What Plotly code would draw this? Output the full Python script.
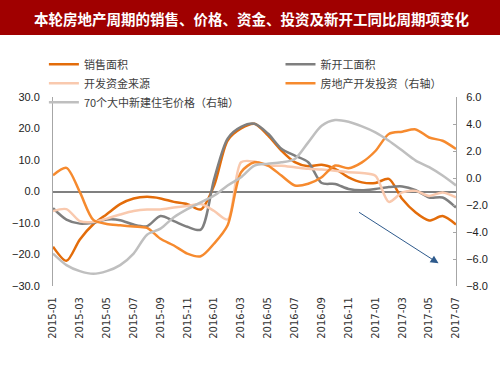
import plotly.graph_objects as go

months = [f"{y}-{m:02d}" for y, m in [(2015, i) for i in range(1, 13)] + [(2016, i) for i in range(1, 13)] + [(2017, i) for i in range(1, 8)]]

sales_area = [-17.5, -22.0, -15.2, -10.4, -7.2, -4.0, -2.2, -1.7, -2.2, -3.3, -4.0, -5.7,
              2.0, 16.2, 20.0, 21.5, 17.8, 13.0, 9.3, 8.0, 8.5, 7.2, 4.5, 2.9, 2.7, 4.0,
              -2.4, -6.7, -9.2, -7.8, -10.5]
new_starts = [-5.3, -8.9, -10.2, -9.9, -8.9, -9.1, -10.5, -11.0, -7.8, -9.4, -11.2, -12.1,
              4.0, 16.8, 20.5, 21.5, 18.4, 13.6, 11.4, 9.3, 2.7, 2.4, 0.8, 0.4, 0.8, 1.4,
              1.6, 0.4, -1.9, -1.9, -5.1]
funding = [-6.2, -5.6, -9.4, -9.7, -8.6, -7.3, -6.2, -5.7, -5.7, -5.1, -4.6, -4.0,
           -6.2, -8.9, 9.3, 9.5, 8.2, 8.2, 7.7, 7.2, 7.0, 6.6, 6.1, 5.9, 5.0, -3.3,
           -0.3, 0.2, -1.4, -0.3, -1.9]
investment = [0.2, 0.75, -1.05, -3.1, -3.4, -3.5, -3.6, -3.7, -4.5, -5.0, -5.6, -5.8,
              -4.85, -3.5, 0.43, 1.16, 0.92, 0.18, -0.55, -0.43, 0.06, 0.92, 0.72, 1.16,
              2.0, 3.26, 3.43, 3.6, 3.0, 2.76, 2.15]
price70 = [-5.6, -6.45, -6.9, -7.1, -6.9, -6.45, -5.6, -4.2, -3.75, -2.9, -2.3, -1.8,
           -1.3, -0.55, 0.06, 0.92, 1.05, 1.16, 1.41, 2.64, 3.87, 4.29, 4.16, 3.82, 3.38,
           2.76, 2.03, 1.29, 0.8, 0.18, -0.55]

tick_labels = months[::2]

left_ticks = [30, 20, 10, 0, -10, -20, -30]
right_ticks = [6, 4, 2, 0, -2, -4, -6, -8]

font_cjk = "Noto Sans CJK SC"
font_num = "'Liberation Sans Narrow', 'Arial Narrow', sans-serif"

fig = go.Figure()
series = [
    ("销售面积", sales_area, "#E36C0A", "y", "legend"),
    ("新开工面积", new_starts, "#7F7F7F", "y", "legend2"),
    ("开发资金来源", funding, "#F9C9AE", "y", "legend"),
    ("房地产开发投资（右轴）", investment, "#F68A2E", "y2", "legend2"),
    ("70个大中新建住宅价格（右轴）", price70, "#BFBFBF", "y2", "legend"),
]
for name, vals, color, ax, lg in series:
    fig.add_trace(go.Scatter(x=months, y=vals, name=name, mode="lines",
                             line=dict(color=color, width=2.5, shape="spline", smoothing=0.8),
                             yaxis=ax, legend=lg))

legend_common = dict(orientation="v", yanchor="top", xanchor="left", tracegroupgap=0,
                     font=dict(family=font_cjk, size=11, color="#404040"),
                     bgcolor="rgba(0,0,0,0)", itemwidth=30)

fig.update_layout(
    width=500, height=375,
    margin=dict(l=46, r=43, t=97, b=89),
    paper_bgcolor="white", plot_bgcolor="white",
    font=dict(family=font_cjk, size=11, color="#333333"),
    showlegend=True,
    legend=dict(x=-0.0226, y=1.25, **legend_common),
    legend2=dict(x=0.5645, y=1.25, **legend_common),
    xaxis=dict(type="category", tickmode="array", tickvals=tick_labels, ticktext=tick_labels,
               tickangle=-90, showgrid=False, showline=False, ticks="", ticklabelstandoff=8,
               tickfont=dict(family="DejaVu Sans", size=10, color="#333333"),
               range=[0, 30]),
    yaxis=dict(range=[-30, 30], tickvals=left_ticks, tickformat=".1f", showgrid=False,
               showline=True, linecolor="#A6A6A6", linewidth=1, ticks="", ticklabelstandoff=10,
               zeroline=True, zerolinecolor="#808080", zerolinewidth=1.5,
               tickfont=dict(family=font_num, size=11, color="#222222")),
    yaxis2=dict(range=[-8, 6], tickvals=right_ticks, tickformat=".1f", overlaying="y", side="right",
                showgrid=False, showline=True, linecolor="#A6A6A6", linewidth=1,
                ticks="inside", ticklen=3, tickcolor="#A6A6A6", zeroline=False, ticklabelstandoff=7,
                tickfont=dict(family=font_num, size=11, color="#222222")),
)

# title band
fig.add_shape(type="rect", xref="paper", yref="paper", x0=-0.3, x1=1.3,
              y0=1 + (97 - 35) / 189, y1=1.8, fillcolor="#A00000", line=dict(width=0),
              layer="above")
fig.add_annotation(text="<b>本轮房地产周期的销售、价格、资金、投资及新开工同比周期项变化</b>",
                   xref="paper", yref="paper", x=(248 - 46) / 411, y=1 + (97 - 18) / 189,
                   showarrow=False, font=dict(family=font_cjk, size=14.5, color="white"),
                   xanchor="center", yanchor="middle")

# trend arrow
fig.add_annotation(x=28.7, y=-22.8, ax=-81, ay=-52, xref="x", yref="y", axref="pixel", ayref="pixel",
                   text="", showarrow=True, arrowhead=2, arrowsize=1.6, arrowwidth=1,
                   arrowcolor="#2E5A8C")

fig.write_html("out.html", config={"displayModeBar": False},
               post_script="document.body.style.margin='0';")
